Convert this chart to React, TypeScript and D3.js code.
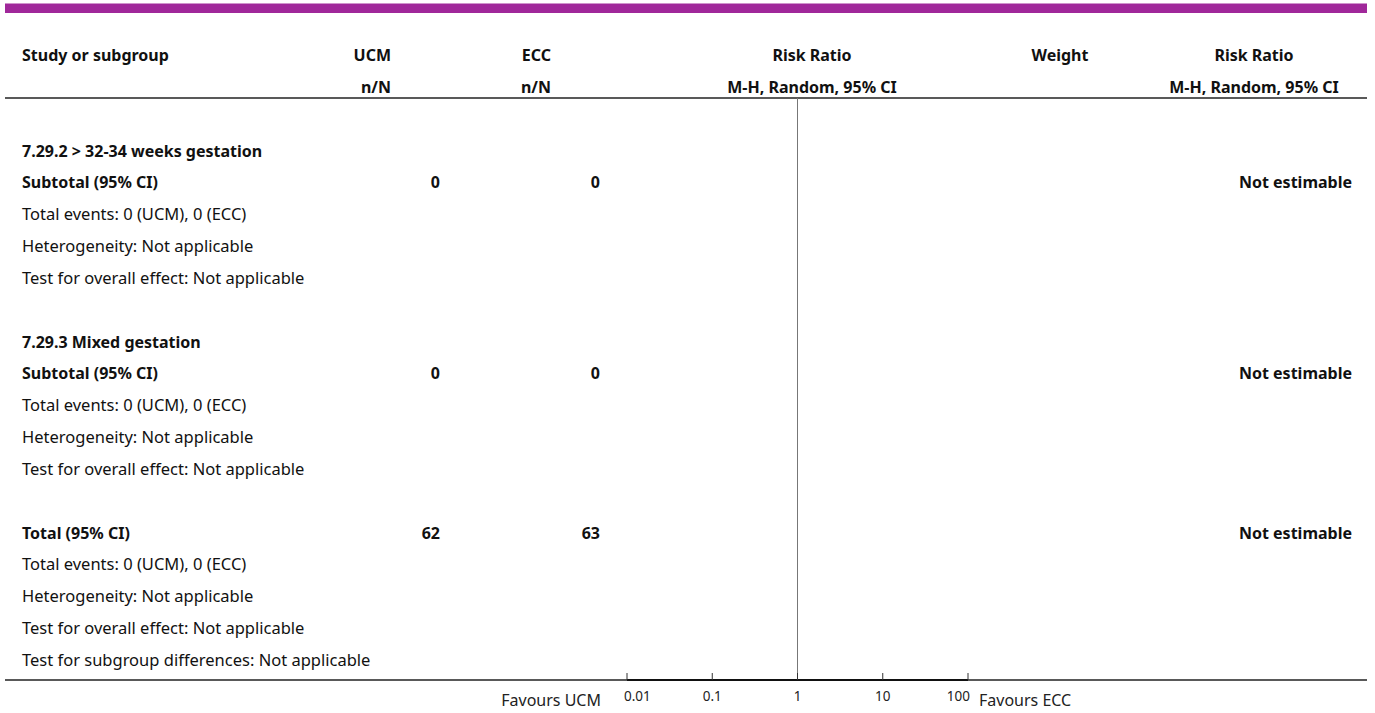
import React from "react";
import * as d3 from "d3";

const W = 1375;
const H = 713;

// Column headers
const headerRow1 = ["Study or subgroup", "UCM", "ECC", "Risk Ratio", "Weight", "Risk Ratio"];
const headerRow2 = ["", "n/N", "n/N", "M-H, Random, 95% CI", "", "M-H, Random, 95% CI"];

// Table rows: label, bold, UCM value, ECC value, estimate text
type Row = { label: string; bold: boolean; ucm: string; ecc: string; est: string; rowIndex: number };
const rows: Row[] = [
  { label: "7.29.2 > 32-34 weeks gestation", bold: true, ucm: "", ecc: "", est: "", rowIndex: 3 },
  { label: "Subtotal (95% CI)", bold: true, ucm: "0", ecc: "0", est: "Not estimable", rowIndex: 4 },
  { label: "Total events: 0 (UCM), 0 (ECC)", bold: false, ucm: "", ecc: "", est: "", rowIndex: 5 },
  { label: "Heterogeneity: Not applicable", bold: false, ucm: "", ecc: "", est: "", rowIndex: 6 },
  { label: "Test for overall effect: Not applicable", bold: false, ucm: "", ecc: "", est: "", rowIndex: 7 },
  { label: "7.29.3 Mixed gestation", bold: true, ucm: "", ecc: "", est: "", rowIndex: 9 },
  { label: "Subtotal (95% CI)", bold: true, ucm: "0", ecc: "0", est: "Not estimable", rowIndex: 10 },
  { label: "Total events: 0 (UCM), 0 (ECC)", bold: false, ucm: "", ecc: "", est: "", rowIndex: 11 },
  { label: "Heterogeneity: Not applicable", bold: false, ucm: "", ecc: "", est: "", rowIndex: 12 },
  { label: "Test for overall effect: Not applicable", bold: false, ucm: "", ecc: "", est: "", rowIndex: 13 },
  { label: "Total (95% CI)", bold: true, ucm: "62", ecc: "63", est: "Not estimable", rowIndex: 15 },
  { label: "Total events: 0 (UCM), 0 (ECC)", bold: false, ucm: "", ecc: "", est: "", rowIndex: 16 },
  { label: "Heterogeneity: Not applicable", bold: false, ucm: "", ecc: "", est: "", rowIndex: 17 },
  { label: "Test for overall effect: Not applicable", bold: false, ucm: "", ecc: "", est: "", rowIndex: 18 },
  { label: "Test for subgroup differences: Not applicable", bold: false, ucm: "", ecc: "", est: "", rowIndex: 19 },
];

const axisTicks = [0.01, 0.1, 1, 10, 100];
const axisTickLabels = ["0.01", "0.1", "1", "10", "100"];
const favoursLeft = "Favours UCM";
const favoursRight = "Favours ECC";

const FONT = "'Noto Sans', 'Open Sans', sans-serif";
const FONT2 = "'Noto Sans', 'Open Sans', sans-serif";
const FS_REG = 16.5;
const FS_BOLD = 16;

export default function App() {
  const x = d3.scaleLog().domain([0.01, 100]).range([627, 968]);
  const rowY = d3.scaleLinear().domain([0, 19]).range([61, 666]);
  const axisY = 680;
  const topLine = 98;

  const colUcmHeader = 391;
  const colEccHeader = 551;
  const colUcm = 440;
  const colEcc = 600;
  const colRR = 812;
  const colWeight = 1060;
  const colRR2 = 1254;
  const colEst = 1352;

  return (
    <svg width={W} height={H} style={{ display: "block", position: "absolute", left: 0, top: 0 }}>
      <rect x={0} y={0} width={W} height={H} fill="#fff" />
      <rect x={5} y={3.5} width={1362} height={9.5} fill="#A0289A" />

      {/* headers */}
      <g fontFamily={FONT} fontWeight={700} fontSize={FS_BOLD} fill="#111">
        <text x={22} y={rowY(0)}>{headerRow1[0]}</text>
        <text x={colUcmHeader} y={rowY(0)} textAnchor="end">{headerRow1[1]}</text>
        <text x={colEccHeader} y={rowY(0)} textAnchor="end">{headerRow1[2]}</text>
        <text x={colRR} y={rowY(0)} textAnchor="middle">{headerRow1[3]}</text>
        <text x={colWeight} y={rowY(0)} textAnchor="middle">{headerRow1[4]}</text>
        <text x={colRR2} y={rowY(0)} textAnchor="middle">{headerRow1[5]}</text>
        <text x={colUcmHeader} y={rowY(1)} textAnchor="end">{headerRow2[1]}</text>
        <text x={colEccHeader} y={rowY(1)} textAnchor="end">{headerRow2[2]}</text>
        <text x={colRR} y={rowY(1)} textAnchor="middle">{headerRow2[3]}</text>
        <text x={colRR2} y={rowY(1)} textAnchor="middle">{headerRow2[5]}</text>
      </g>
      <line x1={5} x2={1367} y1={topLine} y2={topLine} stroke="#222" strokeWidth={1.6} />

      {/* vertical line of no effect */}
      <line x1={x(1)} x2={x(1)} y1={topLine} y2={axisY} stroke="#777" strokeWidth={1} />

      {/* rows */}
      <g fontFamily={FONT} fill="#111">
        {rows.map((r, i) => (
          <g key={i}>
            <text
              x={22}
              y={rowY(r.rowIndex)}
              fontWeight={r.bold ? 700 : 400}
              fontSize={r.bold ? FS_BOLD : FS_REG}
            >
              {r.label}
            </text>
            {r.ucm && (
              <text x={colUcm} y={rowY(r.rowIndex)} textAnchor="end" fontWeight={700} fontSize={FS_BOLD}>{r.ucm}</text>
            )}
            {r.ecc && (
              <text x={colEcc} y={rowY(r.rowIndex)} textAnchor="end" fontWeight={700} fontSize={FS_BOLD}>{r.ecc}</text>
            )}
            {r.est && (
              <text x={colEst} y={rowY(r.rowIndex)} textAnchor="end" fontWeight={700} fontSize={FS_BOLD}>{r.est}</text>
            )}
          </g>
        ))}
      </g>

      {/* axis */}
      <line x1={5} x2={1367} y1={axisY} y2={axisY} stroke="#222" strokeWidth={1.5} />
      <line x1={x(0.01)} x2={x(100)} y1={axisY} y2={axisY} stroke="#111" strokeWidth={2} />
      {axisTicks.map((t, i) => (
        <g key={i}>
          <line x1={x(t)} x2={x(t)} y1={axisY} y2={axisY - 7} stroke="#333" strokeWidth={1} />
          <text
            x={i === 0 ? x(t) - 3 : i === axisTicks.length - 1 ? x(t) + 2 : x(t)}
            y={701}
            textAnchor={i === 0 ? "start" : i === axisTicks.length - 1 ? "end" : "middle"}
            fontFamily={FONT2}
            fontSize={13.5}
            fill="#222"
          >
            {axisTickLabels[i]}
          </text>
        </g>
      ))}
      <text x={601} y={706} textAnchor="end" fontFamily={FONT2} fontSize={16} fill="#222">{favoursLeft}</text>
      <text x={979} y={706} textAnchor="start" fontFamily={FONT2} fontSize={16} fill="#222">{favoursRight}</text>
    </svg>
  );
}
